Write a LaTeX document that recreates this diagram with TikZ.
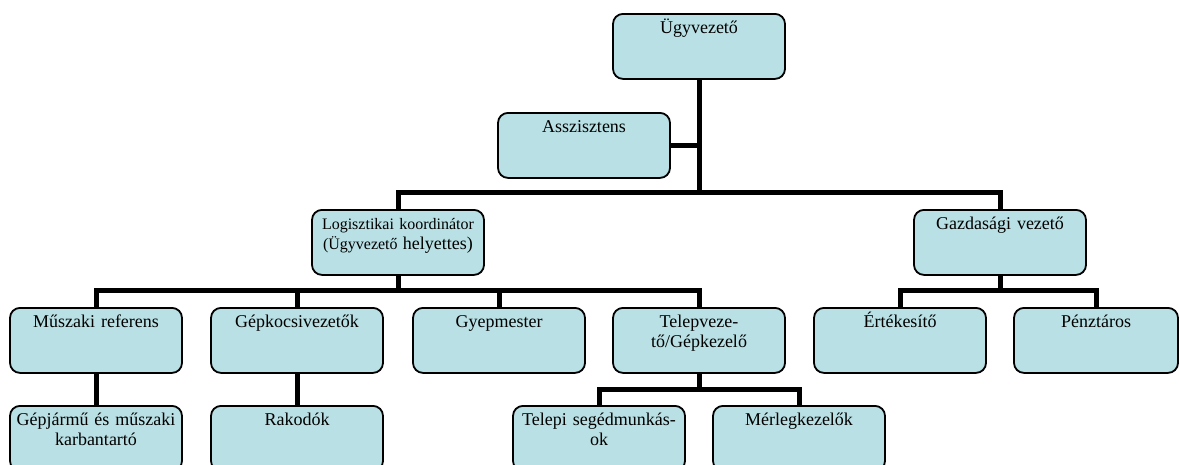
\documentclass[tikz,border=0pt]{standalone}
\usepackage{fontspec}
\setmainfont{Liberation Serif}
\usepackage{tikz}
\definecolor{boxfill}{RGB}{185,224,228}
\tikzstyle{unit} = [rectangle, rounded corners=10pt, draw=black, line width=1.8pt, fill=boxfill, anchor=north, text width=168pt, align=center, inner sep=2pt, text height=18pt, text depth=43pt, font=\fontsize{18}{20}\selectfont]
\tikzstyle{link} = [line width=5pt]

\begin{document}
\begin{tikzpicture}[x=1pt,y=-1pt]
\useasboundingbox (0,0) rectangle (1179,464);
% boxes, top edge given
\node[unit] (ceo) at (699,13) {Ügyvezető};
\node[unit] (asst) at (584,112) {Asszisztens};
\node[unit,font=\fontsize{16}{20}\selectfont] (logi) at (398,209) {Logisztikai koordinátor\\(Ügyvezető {\fontsize{18}{20}\selectfont helyettes)}};
\node[unit] (gazd) at (1000,209) {Gazdasági vezető};
\node[unit] (musz) at (96,307) {Műszaki referens};
\node[unit] (gepk) at (297,307) {Gépkocsivezetők};
\node[unit] (gyep) at (499,307) {Gyepmester};
\node[unit] (telep) at (699,307) {Telepveze-\\tő/Gépkezelő};
\node[unit] (ertek) at (900,307) {Értékesítő};
\node[unit,text width=160pt] (penz) at (1096,307) {Pénztáros};
\node[unit] (gepj) at (96,405) {Gépjármű és műszaki\\karbantartó};
\node[unit] (rakod) at (297,405) {Rakodók};
\node[unit] (telepi) at (599,405) {Telepi segédmunkás-\\ok};
\node[unit] (merleg) at (799,405) {Mérlegkezelők};
% lines
\coordinate (top) at (699,192);
\draw[link] (ceo.south)--(top);
\draw[link] (asst.east)--(asst.east -| top);
\draw[link] (logi.north) |- (top) -| (gazd.north);
\coordinate (mid) at (398,290);
\draw[link] (logi.south)--(mid);
\draw[link] (musz.north) |- (mid) -| (telep.north);
\draw[link] (gepk.north)--(gepk.north |- mid);
\draw[link] (gyep.north)--(gyep.north |- mid);
\coordinate (fin) at (1000,290);
\draw[link] (gazd.south)--(fin);
\draw[link] (ertek.north) |- (fin) -| (penz.north);
\draw[link] (musz.south)--(gepj.north);
\draw[link] (gepk.south)--(rakod.north);
\coordinate (yard) at (699,389);
\draw[link] (telep.south)--(yard);
\draw[link] (telepi.north) |- (yard) -| (merleg.north);
\end{tikzpicture}
\end{document}
